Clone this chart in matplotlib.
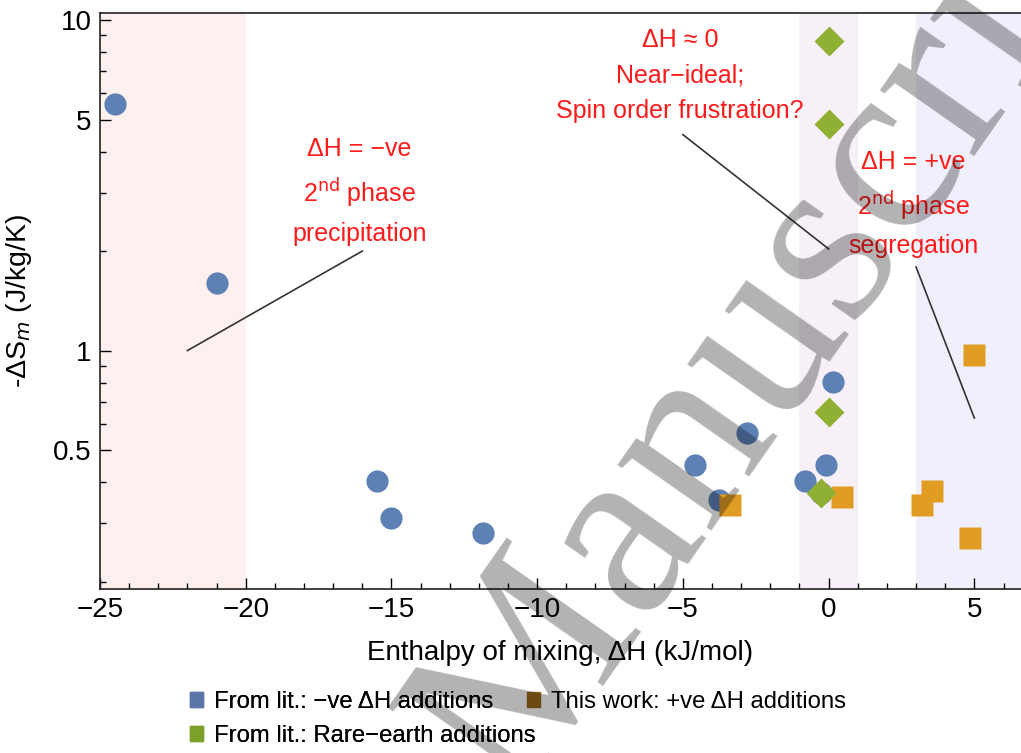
import numpy
import matplotlib
matplotlib.use('Agg')
import matplotlib.pyplot as pyplot
from matplotlib.patches import Patch
from matplotlib.ticker import FixedLocator, NullFormatter

pyplot.rcParams['font.family'] = ['Liberation Sans', 'DejaVu Sans']
pyplot.rcParams['axes.unicode_minus'] = True

# -ve enthalpy additions from literature
lit_neg_dh = [-24.5, -21.0, -15.5, -15.0, -11.85, -4.6, -2.8, -3.75, 0.15, -0.1, -0.8, -0.25]
lit_neg_ds = [5.56, 1.60, 0.404, 0.312, 0.281, 0.451, 0.563, 0.353, 0.804, 0.451, 0.402, 0.370]

# this work, +ve enthalpy additions
this_dh = [-3.4, 0.45, 5.0, 3.55, 3.2, 4.85]
this_ds = [0.341, 0.360, 0.972, 0.376, 0.341, 0.271]

# rare-earth additions from literature
re_dh = [0.0, 0.0, 0.0, -0.25]
re_ds = [8.65, 4.84, 0.65, 0.372]

BLUE = '#5e81b5'
ORANGE = '#e19c24'
GREEN = '#8fb032'
RED = '#ff1a1a'

fig = pyplot.figure(figsize=(10.21, 7.53), dpi=100)
ax = fig.add_axes([100/1021., (753-589)/753., 1 - 100/1021., (589-13)/753.])

# shaded regimes
ax.axvspan(-25, -20, color='#fff0f0', lw=0, zorder=0)
ax.axvspan(-1, 1, color='#f8f0f8', lw=0, zorder=0)
ax.axvspan(3, 7, color='#f0f0fc', lw=0, zorder=0)

ax.plot(lit_neg_dh, lit_neg_ds, 'o', color=BLUE, ms=16, mec='none', zorder=3)
ax.plot(re_dh, re_ds, 'D', color=GREEN, ms=15, mec='none', zorder=4)
ax.plot(this_dh, this_ds, 's', color=ORANGE, ms=16.5, mec='none', zorder=3)

ax.set_yscale('log')
ax.set_xlim(-25, 6.6)
ax.set_ylim(0.19, 10.5)

ax.set_xticks([-25, -20, -15, -10, -5, 0, 5])
ax.xaxis.set_minor_locator(FixedLocator(numpy.arange(-25, 7, 1)))
ax.set_yticks([0.5, 1, 5, 10])
ax.set_yticklabels(['0.5', '1', '5', '10'])
minor_y = [0.2, 0.3, 0.4, 0.6, 0.7, 0.8, 0.9, 2, 3, 4, 6, 7, 8, 9]
ax.yaxis.set_minor_locator(FixedLocator(minor_y))
ax.yaxis.set_minor_formatter(NullFormatter())
ax.tick_params(which='major', direction='in', length=8, width=1, labelsize=20, pad=6)
ax.tick_params(which='minor', direction='in', length=4, width=1)
ax.spines['right'].set_visible(False)
for s in ['left', 'bottom', 'top']:
    ax.spines[s].set_linewidth(1.2)
    ax.spines[s].set_color('#222222')

ax.set_xlabel('Enthalpy of mixing, \u0394H (kJ/mol)', fontsize=20, labelpad=12)
ax.set_ylabel('-\u0394S$_m$ (J/kg/K)', fontsize=20.5, labelpad=14)

# annotations
ax.text(-16.1, 3.03, '\u0394H = \u2212ve\n2$^{\\rm nd}$ phase\nprecipitation', color=RED,
        fontsize=18, ha='center', va='center', linespacing=1.6)
ax.plot([-22, -16], [1.0, 2.0], color='#333333', lw=1.2)
ax.text(-5.1, 6.8, '\u0394H \u2248 0\nNear\u2212ideal;\nSpin order frustration?', color=RED,
        fontsize=18, ha='center', va='center', linespacing=1.6)
ax.plot([-5, 0], [4.5, 2.03], color='#333333', lw=1.2)
ax.text(2.9, 2.77, '\u0394H = +ve\n2$^{\\rm nd}$ phase\nsegregation', color=RED,
        fontsize=18, ha='center', va='center', linespacing=1.6)
ax.plot([3, 5], [1.79, 0.625], color='#333333', lw=1.2)

# legend below the axes, laid out like the original (two blocks)
leg_kw = dict(frameon=False, fontsize=17.2, handlelength=0.55, handleheight=0.55,
              handletextpad=0.45, labelspacing=0.5, borderaxespad=0, borderpad=0)
leg1 = fig.legend([Patch(color='#5a76a8'), Patch(color='#7da02a')],
                  ['From lit.: \u2212ve \u0394H additions', 'From lit.: Rare\u2212earth additions'],
                  loc='upper left', bbox_to_anchor=(190/1021., 1 - 691/753.), **leg_kw)
fig.add_artist(leg1)
leg2 = fig.legend([Patch(color='#9c6a1c')], ['This work: +ve \u0394H additions'],
                  loc='upper left', bbox_to_anchor=(527/1021., 1 - 691/753.), **leg_kw)

fig.text(792/1021., 1 - 300/753., 'Manuscript', rotation=55, fontsize=180,
         family='Liberation Serif', color='black', alpha=0.3, ha='center', va='center',
         zorder=10)

pyplot.savefig('out.png')
